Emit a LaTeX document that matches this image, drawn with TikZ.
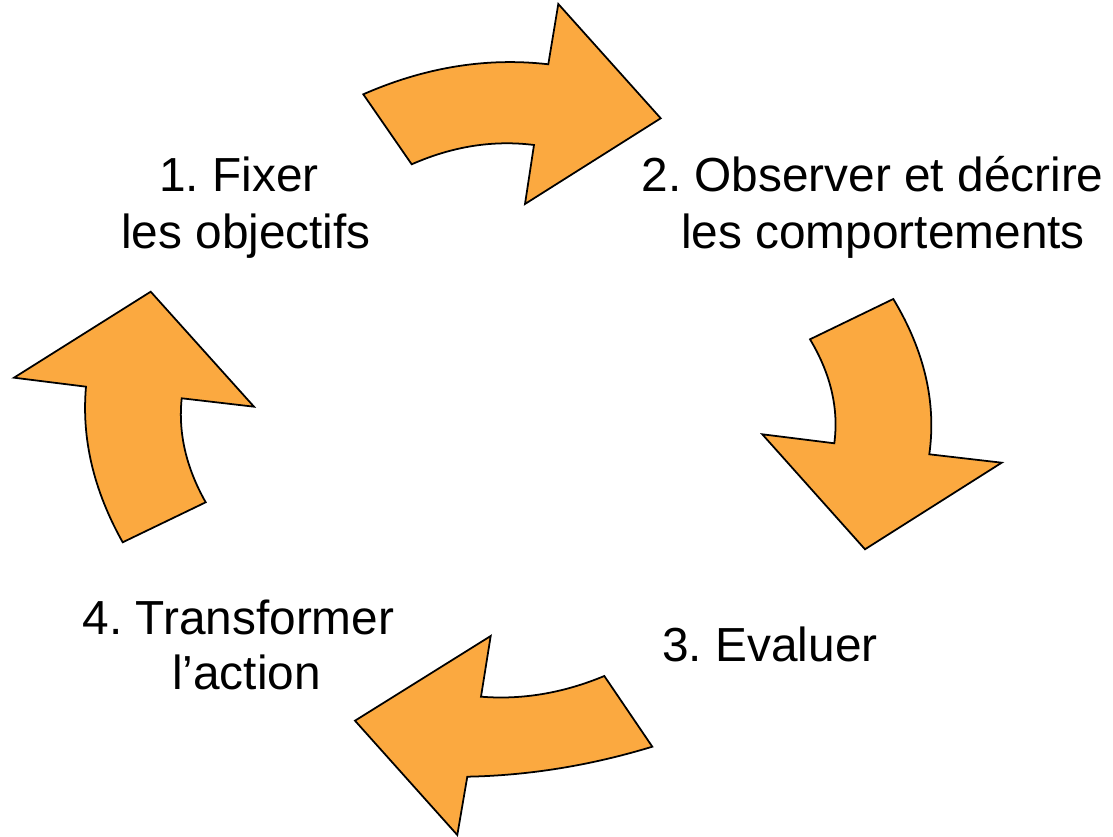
\documentclass[tikz,border=0pt]{standalone}
\usepackage{fontspec}
\setmainfont{Liberation Sans}
\frenchspacing
\definecolor{arroworange}{RGB}{251,169,64}
\begin{document}
\begin{tikzpicture}[x=0.02cm,y=-0.02cm,
  bigarrow/.style={draw=black,fill=arroworange,line width=1pt,line join=miter},
  lbl/.style={anchor=base,inner sep=0pt,font=\fontsize{27.2}{32}\selectfont}]
\useasboundingbox (0,0) rectangle (1113,837);
% arrow 1 (top)
\draw[bigarrow] (363.3,94.3) .. controls (425.1,67.2) and (486.8,57.2) .. (548.3,64.3)
  -- (558.3,4) -- (660.7,118.3) -- (525,204) -- (534,145)
  .. controls (493.3,139.9) and (452.6,146.3) .. (411.7,164.3) -- cycle;
% arrow 2 (right)
\draw[bigarrow] (893.3,299) -- (810,339.3)
  .. controls (830.8,374) and (838.9,408.6) .. (834.3,443.3)
  -- (762.3,434.3) -- (865,549.3) -- (1001.7,462.7) -- (929.3,454.3)
  .. controls (936.5,402.6) and (924.5,350.8) .. (893.3,299) -- cycle;
% arrow 3 (bottom)
\draw[bigarrow] (604.3,676) -- (652.3,746.7)
  .. controls (590.6,765.5) and (529,775.5) .. (467.3,776.7)
  -- (457.3,835) -- (355,720.7) -- (490.7,636) -- (481,696.7)
  .. controls (522.1,700) and (563.2,693.1) .. (604.3,676) -- cycle;
% arrow 4 (left)
\draw[bigarrow] (122.7,542.3) -- (205.7,502.3)
  .. controls (186.1,467.6) and (178.1,433) .. (181.7,398.3)
  -- (254,406.7) -- (150.7,291.7) -- (14,377.7) -- (86,386.7)
  .. controls (81.4,438.6) and (93.6,490.4) .. (122.7,542.3) -- cycle;
% labels
\node[lbl] (t1a) at (239,192) {1. Fixer};
\node[lbl] (t1b) at (246,249) {les objectifs};
\node[lbl] (t2a) at (872.5,192) {2. Observer et décrire};
\node[lbl] (t2b) at (883,249) {les comportements};
\node[lbl] (t3) at (770,662) {3. Evaluer};
\node[lbl] (t4a) at (238.5,635) {4. Transformer};
\node[lbl] (t4b) at (246.5,690) {l’action};
\end{tikzpicture}
\end{document}
